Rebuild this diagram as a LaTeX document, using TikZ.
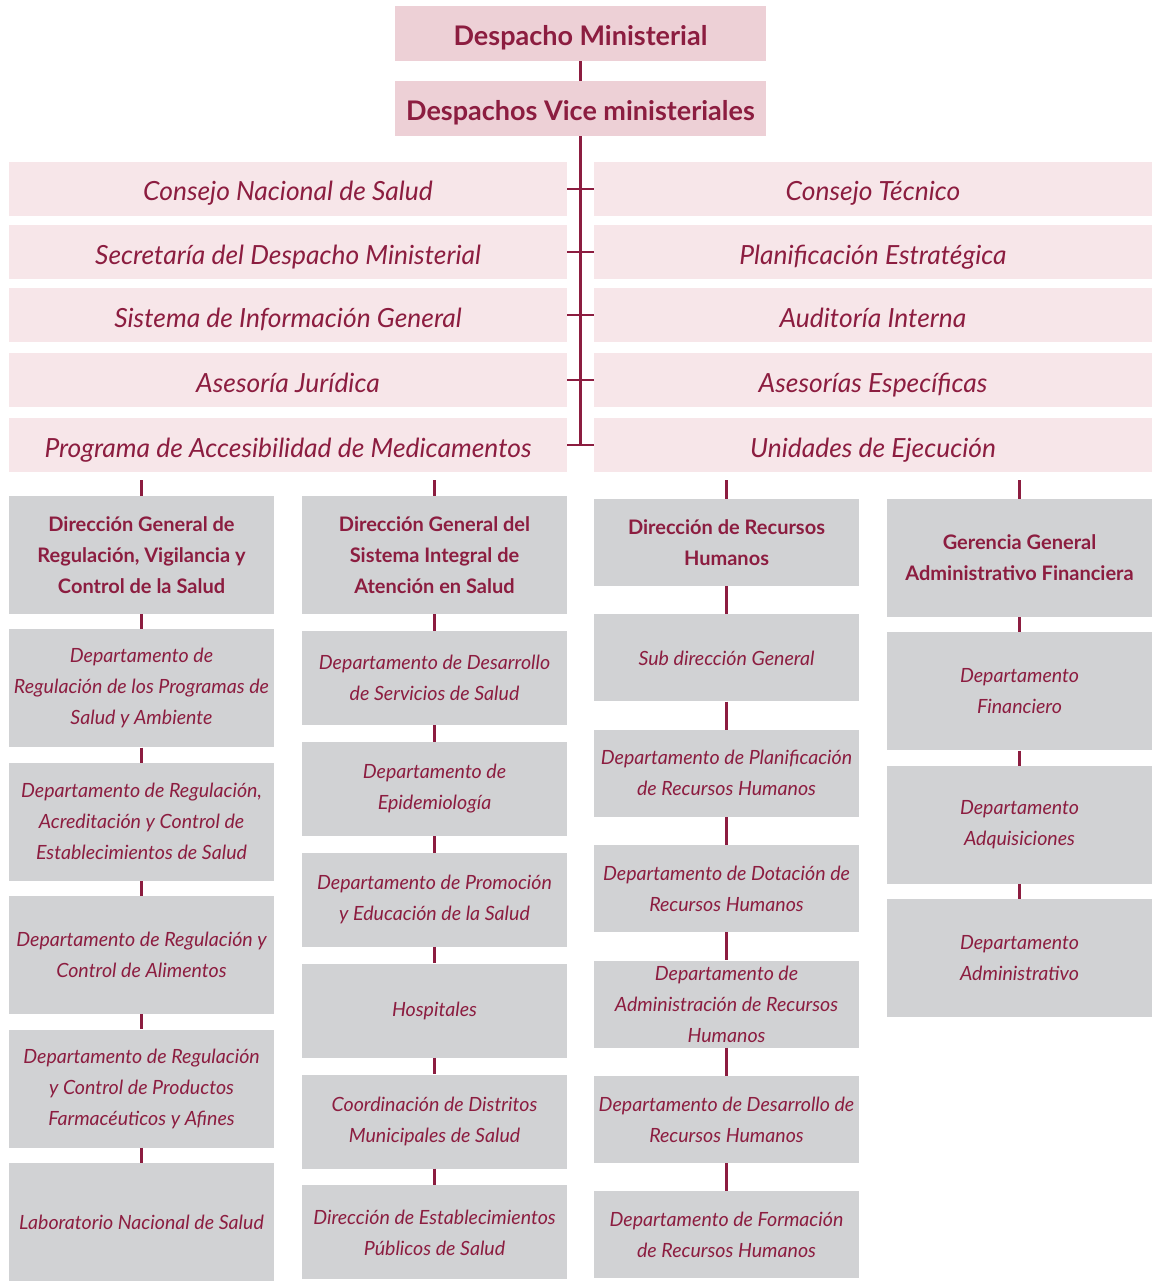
\documentclass[tikz,border=0pt]{standalone}
\usepackage{fontspec}
\setmainfont{Lato}
\usetikzlibrary{positioning}

\definecolor{wine}{HTML}{8C1D40}
\definecolor{rose}{HTML}{EDD0D6}
\definecolor{blush}{HTML}{F7E6E9}
\definecolor{stone}{HTML}{D1D2D4}

\begin{document}
\begin{tikzpicture}[x=1pt, y=-1pt,
    top/.style    = {fill=rose, text=wine, inner sep=0pt, minimum width=371pt, minimum height=55pt,
                     text height=24pt, text depth=0pt,
                     font=\fontsize{27}{32}\selectfont\bfseries},
    staff/.style  = {fill=blush, text=wine, inner sep=0pt, minimum width=558pt, minimum height=54pt,
                     text height=24pt, text depth=0pt,
                     font=\fontsize{26.4}{30}\selectfont\itshape},
    head/.style   = {fill=stone, text=wine, inner sep=0pt, minimum width=265pt, align=center,
                     font=\fontsize{20}{31}\selectfont\bfseries},
    unit/.style   = {fill=stone, text=wine, inner sep=0pt, minimum width=265pt, align=center,
                     font=\fontsize{19.6}{31}\selectfont\itshape},
    link/.style   = {draw=wine, line width=2.6pt},
  ]
  \useasboundingbox (0,0) rectangle (1156,1281);

  % cabeza
  \node[top] (desp) at (580.5,33.5) {Despacho Ministerial};
  \node[top] (vice) at (580.5,108.5) {Despachos Vice ministeriales};

  % staff
  \node[staff] (cns) at (288,189) {Consejo Nacional de Salud};
  \node[staff] (sdm) at (288,252) {Secretaría del Despacho Ministerial};
  \node[staff] (sig) at (288,315) {Sistema de Información General};
  \node[staff] (asj) at (288,380) {Asesoría Jurídica};
  \node[staff] (pam) at (288,445) {Programa de Accesibilidad de Medicamentos};
  \node[staff] (ctec) at (873,189) {Consejo Técnico};
  \node[staff] (plan) at (873,252) {Planificación Estratégica};
  \node[staff] (audi) at (873,315) {Auditoría Interna};
  \node[staff] (ases) at (873,380) {Asesorías Específicas};
  \node[staff] (unej) at (873,445) {Unidades de Ejecución};

  % regulacion
  \node[head, minimum height=118pt] (reg) at (141.5,555) {Dirección General de\\Regulación, Vigilancia y\\Control de la Salud};
  \node[unit, minimum height=118pt, below=15pt of reg] (reg1) {Departamento de\\Regulación de los Programas de\\Salud y Ambiente};
  \node[unit, minimum height=118pt, below=15pt of reg1] (reg2) {Departamento de Regulación,\\Acreditación y Control de\\Establecimientos de Salud};
  \node[unit, minimum height=118pt, below=15pt of reg2] (reg3) {Departamento de Regulación y\\Control de Alimentos};
  \node[unit, minimum height=118pt, below=15pt of reg3] (reg4) {Departamento de Regulación\\y Control de Productos\\Farmacéuticos y Afines};
  \node[unit, minimum height=118pt, below=15pt of reg4] (reg5) {Laboratorio Nacional de Salud};

  % sistema integral
  \node[head, minimum height=118pt] (sias) at (434.5,555) {Dirección General del\\Sistema Integral de\\Atención en Salud};
  \node[unit, minimum height=94pt, below=16.5pt of sias] (sias1) {Departamento de Desarrollo\\de Servicios de Salud};
  \node[unit, minimum height=94pt, below=16.5pt of sias1] (sias2) {Departamento de\\Epidemiología};
  \node[unit, minimum height=94pt, below=16.5pt of sias2] (sias3) {Departamento de Promoción\\y Educación de la Salud};
  \node[unit, minimum height=94pt, below=16.5pt of sias3] (sias4) {Hospitales};
  \node[unit, minimum height=94pt, below=16.5pt of sias4] (sias5) {Coordinación de Distritos\\Municipales de Salud};
  \node[unit, minimum height=94pt, below=16.5pt of sias5] (sias6) {Dirección de Establecimientos\\Públicos de Salud};

  % recursos humanos
  \node[head, minimum height=87pt] (rrhh) at (726.5,542.5) {Dirección de Recursos\\Humanos};
  \node[unit, minimum height=87pt, below=28pt of rrhh] (rrhh1) {Sub dirección General};
  \node[unit, minimum height=87pt, below=28pt of rrhh1] (rrhh2) {Departamento de Planificación\\de Recursos Humanos};
  \node[unit, minimum height=87pt, below=28pt of rrhh2] (rrhh3) {Departamento de Dotación de\\Recursos Humanos};
  \node[unit, minimum height=87pt, below=28pt of rrhh3] (rrhh4) {Departamento de\\Administración de Recursos\\Humanos};
  \node[unit, minimum height=87pt, below=28pt of rrhh4] (rrhh5) {Departamento de Desarrollo de\\Recursos Humanos};
  \node[unit, minimum height=87pt, below=28pt of rrhh5] (rrhh6) {Departamento de Formación\\de Recursos Humanos};

  % administrativo financiera
  \node[head, minimum height=118pt] (gaf) at (1019.5,558) {Gerencia General\\Administrativo Financiera};
  \node[unit, minimum height=118pt, below=15pt of gaf] (gaf1) {Departamento\\Financiero};
  \node[unit, minimum height=118pt, below=15pt of gaf1] (gaf2) {Departamento\\Adquisiciones};
  \node[unit, minimum height=118pt, below=15pt of gaf2] (gaf3) {Departamento\\Administrativo};

  % lineas
  \coordinate (spine) at (580.5,445);
  \coordinate (bar) at (0,480);
  \draw[link] (desp) -- (vice);
  \draw[link] (vice) -- (spine);
  \foreach \l/\r in {cns/ctec, sdm/plan, sig/audi, asj/ases, pam/unej}
    \draw[link] (\l.east) -- (\r.west);

  \foreach \h in {reg, sias, rrhh, gaf} {
    \coordinate (\h top) at (\h.north |- bar);
    \draw[link] (\h top) -- (\h);
  }
  \foreach \a/\b in {reg/reg1, reg1/reg2, reg2/reg3, reg3/reg4, reg4/reg5,
                     sias/sias1, sias1/sias2, sias2/sias3, sias3/sias4, sias4/sias5, sias5/sias6,
                     rrhh/rrhh1, rrhh1/rrhh2, rrhh2/rrhh3, rrhh3/rrhh4, rrhh4/rrhh5, rrhh5/rrhh6,
                     gaf/gaf1, gaf1/gaf2, gaf2/gaf3}
    \draw[link] (\a) -- (\b);
\end{tikzpicture}
\end{document}
